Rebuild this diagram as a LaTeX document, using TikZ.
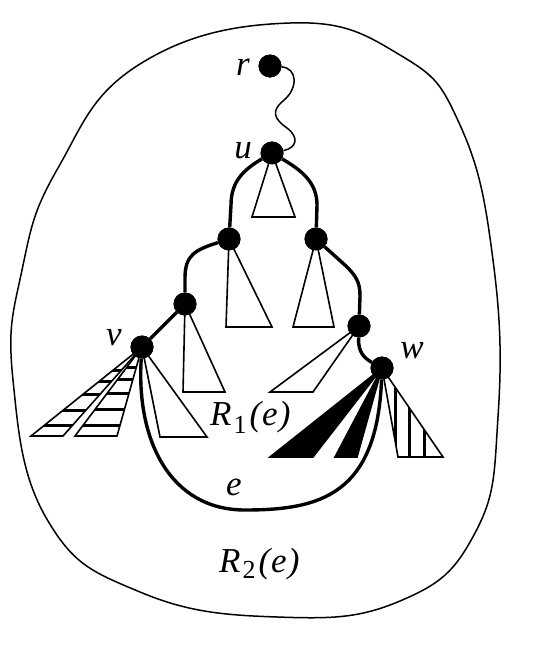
\documentclass[tikz,border=0pt]{standalone}
\usepackage{fontspec}
\setmainfont{Liberation Serif}
\begin{document}
\begin{tikzpicture}[x=1pt,y=-1pt,
  dot/.style={circle,fill=black,inner sep=0pt,minimum size=23pt},
  edge/.style={line width=3.4pt},
  thinline/.style={line width=1.6pt},
  wave/.style={line width=1.5pt},
  lab/.style={inner sep=0pt,anchor=base,font=\fontsize{35}{40}\selectfont\itshape},
  stripe/.style={line width=3pt},
]
\useasboundingbox (0,0) rectangle (535,645);
% outer region
\draw[line width=1.5pt] plot[smooth cycle, tension=0.75] coordinates {
 (13,380) (22,270) (58,168) (140,64) (290,23) (400,55) (460,125) (493,260)
 (498,417) (475,533) (400,601) (277,617) (140,592) (48,521)};
% vertices
\node[dot] (r) at (270,66) {};
\node[dot] (u) at (272,153) {};
\node[dot] (a) at (229,239) {};
\node[dot] (b) at (316,239) {};
\node[dot] (c) at (185,304) {};
\node[dot] (v) at (142,347) {};
\node[dot] (d) at (359,326) {};
\node[dot] (w) at (382,368) {};
% white subtrees
\draw[thinline,fill=white] (u.center) -- (252,217) -- (295,217) -- cycle;
\draw[thinline,fill=white] (a.center) -- (226,327) -- (272,327) -- cycle;
\draw[thinline,fill=white] (b.center) -- (293,327) -- (334,327) -- cycle;
\draw[thinline,fill=white] (c.center) -- (183,392) -- (225,392) -- cycle;
\draw[thinline,fill=white] (d.center) -- (270,392) -- (313,392) -- cycle;
\draw[thinline,fill=white] (v.center) -- (160,437) -- (207,437) -- cycle;
% horizontally striped subtrees of v
\begin{scope}
\clip (v.center) -- (31,436) -- (63,436) -- cycle;
\foreach \yy in {370,381,394,410,425} \draw[stripe] (0,\yy) -- (200,\yy);
\end{scope}
\draw[thinline] (v.center) -- (31,436) -- (63,436) -- cycle;
\begin{scope}
\clip (v.center) -- (75,436) -- (117,436) -- cycle;
\foreach \yy in {367,379,393,409,425} \draw[stripe] (0,\yy) -- (200,\yy);
\end{scope}
\draw[thinline] (v.center) -- (75,436) -- (117,436) -- cycle;
% black subtrees of w
\draw[thinline,fill=black] (w.center) -- (270,457) -- (313,457) -- cycle;
\draw[thinline,fill=black] (w.center) -- (335,457) -- (357,457) -- cycle;
% vertically striped subtree of w
\begin{scope}
\clip (w.center) -- (398,457) -- (443,457) -- cycle;
\foreach \xx in {395,409,424} \draw[stripe] (\xx,300) -- (\xx,470);
\end{scope}
\draw[thinline] (w.center) -- (398,457) -- (443,457) -- cycle;
% tree path
\draw[wave] (r) .. controls (297,68) and (299,88) .. (283,101)
  .. controls (271,111) and (274,119) .. (287,128)
  .. controls (300,138) and (296,148) .. (u);
\draw[edge] (u) .. controls (243,170) and (231,182) .. (231,205) -- (a);
\draw[edge] (u) .. controls (301,170) and (317,182) .. (317,205) -- (b);
\draw[edge] (a) .. controls (195,250) and (185,255) .. (185,278) -- (c);
\draw[edge] (c) -- (v);
\draw[edge] (b) -- (346,266) .. controls (356,276) and (360,282) .. (360,296) -- (d);
\draw[edge] (d) .. controls (358,352) and (364,358) .. (w);
% edge e
\draw[edge] (v) .. controls (136,440) and (170,510) .. (245,510)
  .. controls (320,510) and (377,495) .. (w);
% redraw vertices on top
\foreach \n in {r,u,a,b,c,v,d,w} \fill (\n) circle (11.5pt);
% labels
\node[lab] (lr) at (243,75) {r};
\node[lab] (lu) at (243,158) {u};
\node[lab] (lv) at (114,345) {v};
\node[lab] (lw) at (412,358) {w};
\node[lab] (le) at (234,495) {e};
\node[lab,anchor=base west] (lR1) at (210,425) {R\kern2pt\raisebox{-8pt}{\fontsize{26}{28}\selectfont\upshape 1}\kern3pt(\kern1pt e\kern1pt)};
\node[lab,anchor=base west] (lR2) at (219,572) {R\kern2pt\raisebox{-6pt}{\fontsize{26}{28}\selectfont\upshape 2}\kern3pt(\kern1pt e\kern1pt)};
\end{tikzpicture}
\end{document}
